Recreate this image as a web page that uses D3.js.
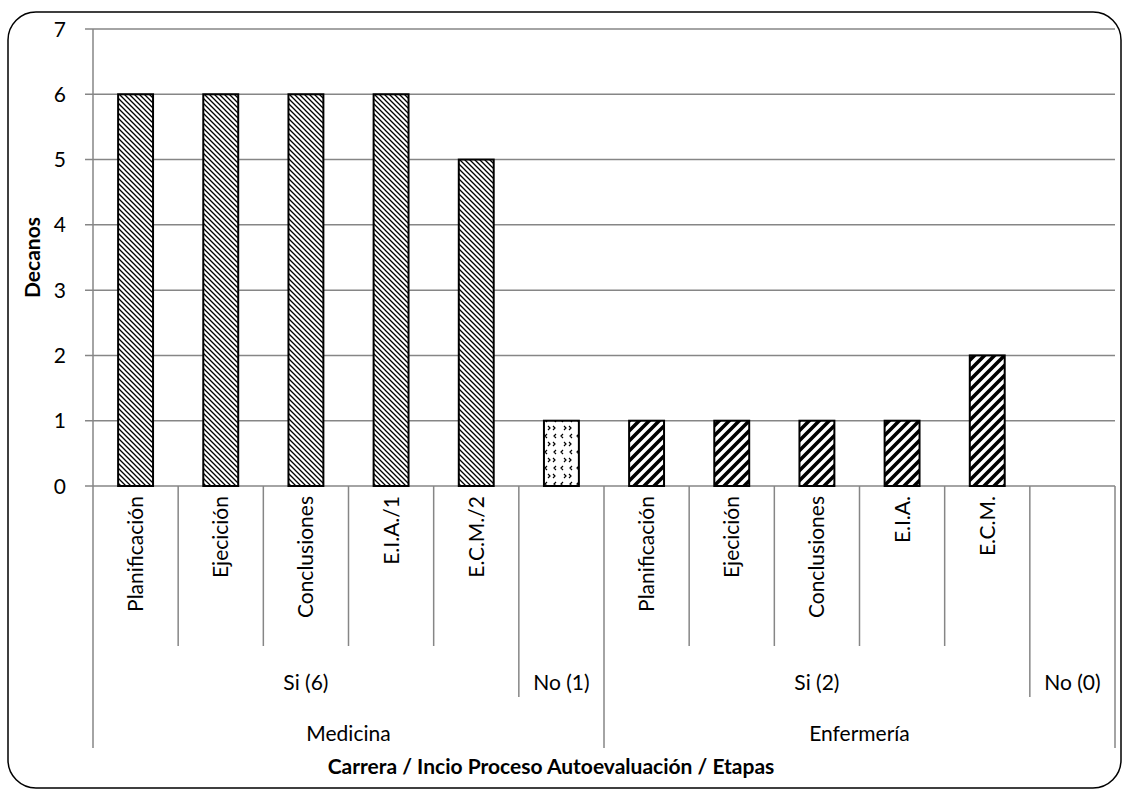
<!DOCTYPE html>
<html>
<head>
<meta charset="utf-8">
<script src="https://cdn.jsdelivr.net/npm/d3@7"></script>
<style>
  body { margin: 0; background: #fff; }
  text { font-family: Lato, "Open Sans", sans-serif; fill: #000; }
</style>
</head>
<body>
<svg id="chart" width="1128" height="795"></svg>
<script>
// etapas (nivel 1), uno por barra
var etapas =   ['Planificación', 'Ejecición', 'Conclusiones', 'E.I.A./1', 'E.C.M./2', '',
                'Planificación', 'Ejecición', 'Conclusiones', 'E.I.A.', 'E.C.M.', '']
var decanos =  [6, 6, 6, 6, 5, 1, 1, 1, 1, 1, 2, 0]
var relleno =  ['diag', 'diag', 'diag', 'diag', 'diag', 'dots',
                'stripe', 'stripe', 'stripe', 'stripe', 'stripe', 'stripe']
// inicio proceso (nivel 2) y carrera (nivel 3), con cuantas barras abarca
var inicio =   ['Si (6)', 'No (1)', 'Si (2)', 'No (0)']
var inicioN =  [5, 1, 5, 1]
var carrera =  ['Medicina', 'Enfermería']
var carreraN = [6, 6]
var yTicks =   [0, 1, 2, 3, 4, 5, 6, 7]

var svg = d3.select('#chart')
// note: "top" is taken by window.top, so use plot* names
var plotL = 93, plotR = 1115, plotT = 29, plotB = 486
var gridColor = '#868686'
var fontSize = 21

// marco redondeado
svg.append('rect')
    .attr('x', 8).attr('y', 12).attr('width', 1113).attr('height', 776)
    .attr('rx', 28).attr('ry', 28)
    .attr('fill', 'none').attr('stroke', '#000').attr('stroke-width', 1.5)

// tramas
var defs = svg.append('defs')
var p1 = defs.append('pattern').attr('id', 'diag').attr('patternUnits', 'userSpaceOnUse')
    .attr('width', 5).attr('height', 5)
p1.append('rect').attr('width', 5).attr('height', 5).attr('fill', '#fff')
p1.append('path').attr('d', 'M-1,-1 L6,6 M-1,4 L1,6 M4,-1 L6,1')
    .attr('stroke', '#000').attr('stroke-width', 1.3)

var p2 = defs.append('pattern').attr('id', 'stripe').attr('patternUnits', 'userSpaceOnUse')
    .attr('width', 10).attr('height', 10)
p2.append('rect').attr('width', 10).attr('height', 10).attr('fill', '#fff')
p2.append('path').attr('d', 'M-2,12 L12,-2 M-7,7 L7,-7 M3,17 L17,3')
    .attr('stroke', '#000').attr('stroke-width', 3.6)

var p3 = defs.append('pattern').attr('id', 'dots').attr('patternUnits', 'userSpaceOnUse')
    .attr('width', 16).attr('height', 16)
p3.append('rect').attr('width', 16).attr('height', 16).attr('fill', '#fff')
p3.append('path').attr('d', 'M3,2 L1,4 L3,6 M9,10 L11,12 L9,14 M12,2 L10,4 L12,6 M4,10 L6,12 L4,14')
    .attr('stroke', '#000').attr('stroke-width', 1.2).attr('fill', 'none')

var x = d3.scaleBand()
    .domain(d3.range(etapas.length))
    .range([plotL, plotR])
    .paddingInner(0.59).paddingOuter(0.295)
var step = x.step()

var y = d3.scaleLinear().domain([0, 7]).range([plotB, plotT])

// rejilla
svg.append('g').selectAll('line').data(yTicks).join('line')
    .attr('x1', plotL - 8).attr('x2', plotR)
    .attr('y1', d => y(d)).attr('y2', d => y(d))
    .attr('stroke', gridColor).attr('stroke-width', 1.5)

svg.append('line')
    .attr('x1', plotL).attr('x2', plotL).attr('y1', plotT).attr('y2', plotB)
    .attr('stroke', gridColor).attr('stroke-width', 1.5)

svg.append('g').selectAll('text').data(yTicks).join('text')
    .attr('x', plotL - 27).attr('y', d => y(d))
    .attr('dy', '0.36em').attr('text-anchor', 'end')
    .style('font-size', fontSize + 'px')
    .text(d => d)

svg.append('text')
    .attr('transform', 'translate(33,' + ((plotT + plotB) / 2) + ') rotate(-90)')
    .attr('dy', '0.35em').attr('text-anchor', 'middle')
    .style('font-size', fontSize + 'px').style('font-weight', 'bold')
    .text('Decanos')

// barras
svg.append('g').selectAll('rect').data(decanos).join('rect')
    .attr('x', (d, i) => x(i))
    .attr('y', d => y(d))
    .attr('width', x.bandwidth())
    .attr('height', d => plotB - y(d))
    .attr('fill', (d, i) => 'url(#' + relleno[i] + ')')
    .attr('stroke', '#000').attr('stroke-width', d => d > 0 ? 2 : 0)

// eje categorias: nivel 1
var lvl1 = plotB + 160, lvl2 = plotB + 211, lvl3 = plotB + 262
var edge = i => plotL + i * step

svg.append('g').selectAll('line').data(d3.range(etapas.length + 1)).join('line')
    .attr('x1', edge).attr('x2', edge)
    .attr('y1', plotB).attr('y2', lvl1)
    .attr('stroke', gridColor).attr('stroke-width', 1.5)

svg.append('g').selectAll('text').data(etapas).join('text')
    .attr('transform', (d, i) => 'translate(' + (x(i) + x.bandwidth() / 2) + ',' + (plotB + 10) + ') rotate(-90)')
    .attr('dy', '0.36em').attr('text-anchor', 'end')
    .style('font-size', fontSize + 'px')
    .text(d => d)

// nivel 2
var cum2 = Array.from(d3.cumsum(inicioN))
var start2 = [0].concat(cum2.slice(0, -1))
svg.append('g').selectAll('line').data([0].concat(cum2)).join('line')
    .attr('x1', edge).attr('x2', edge)
    .attr('y1', lvl1).attr('y2', lvl2)
    .attr('stroke', gridColor).attr('stroke-width', 1.5)
svg.append('g').selectAll('text').data(inicio).join('text')
    .attr('x', (d, i) => edge(start2[i] + inicioN[i] / 2))
    .attr('y', lvl1 + 36).attr('dy', '0.36em').attr('text-anchor', 'middle')
    .style('font-size', fontSize + 'px')
    .text(d => d)

// nivel 3
var cum3 = Array.from(d3.cumsum(carreraN))
var start3 = [0].concat(cum3.slice(0, -1))
svg.append('g').selectAll('line').data([0].concat(cum3)).join('line')
    .attr('x1', edge).attr('x2', edge)
    .attr('y1', lvl2).attr('y2', lvl3)
    .attr('stroke', gridColor).attr('stroke-width', 1.5)
svg.append('g').selectAll('text').data(carrera).join('text')
    .attr('x', (d, i) => edge(start3[i] + carreraN[i] / 2))
    .attr('y', lvl2 + 36).attr('dy', '0.36em').attr('text-anchor', 'middle')
    .style('font-size', fontSize + 'px')
    .text(d => d)

svg.append('text')
    .attr('x', 551).attr('y', 766)
    .attr('dy', '0.36em').attr('text-anchor', 'middle')
    .style('font-size', fontSize + 'px').style('font-weight', 'bold')
    .text('Carrera / Incio Proceso Autoevaluación / Etapas')
</script>
</body>
</html>
